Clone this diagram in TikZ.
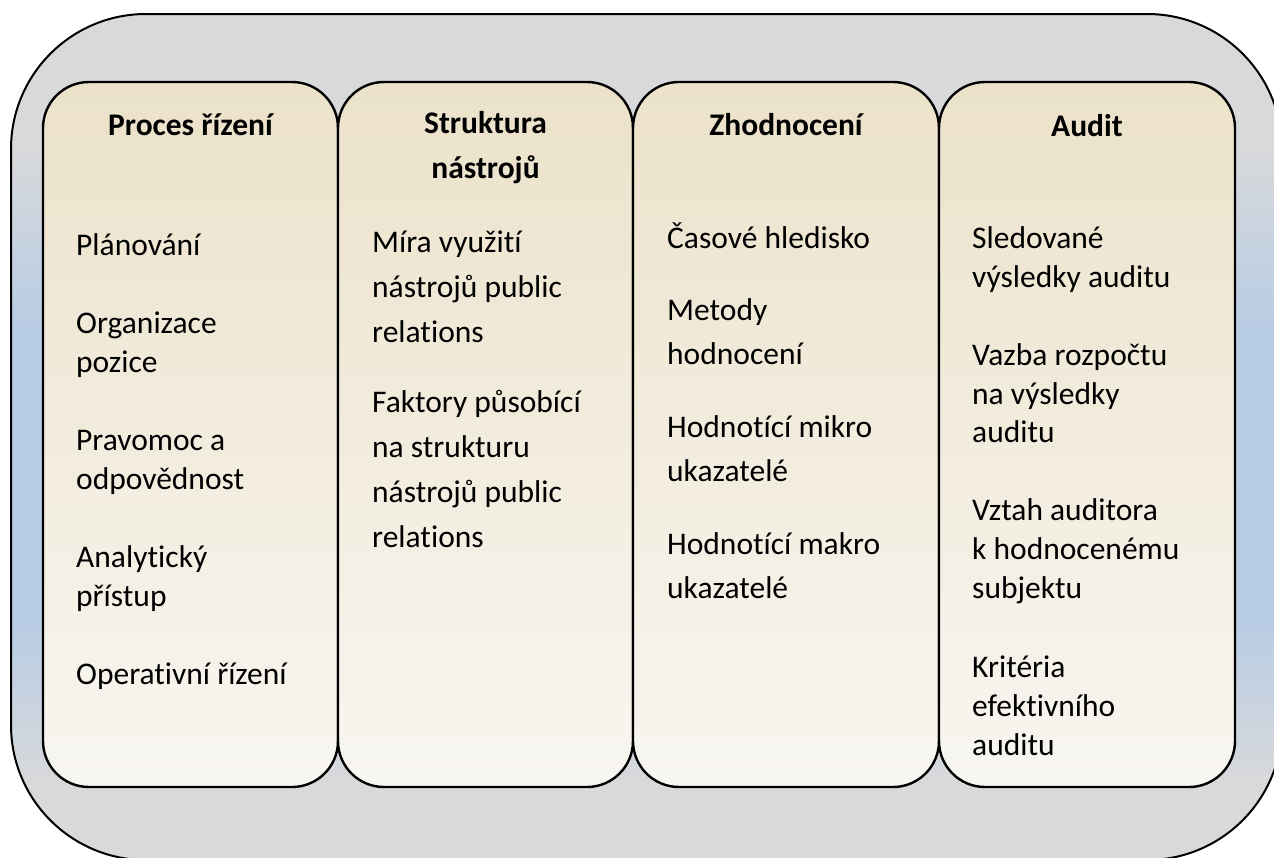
\documentclass[tikz,border=0pt]{standalone}
\usepackage{fontspec}
\setmainfont[Ligatures=NoCommon]{Carlito}
\definecolor{outerGray}{HTML}{D8D9DB}
\definecolor{outerBlue}{HTML}{B8CCE4}
\definecolor{colTop}{HTML}{ECE2CA}
\definecolor{colBottom}{HTML}{F8F6F1}
% grey at top and bottom, blue band through the middle
\pgfdeclareverticalshading{outerfill}{100bp}{color(0bp)=(outerGray);
  color(29.7bp)=(outerGray); color(39bp)=(outerBlue);
  color(56.5bp)=(outerBlue); color(67bp)=(outerGray);
  color(100bp)=(outerGray)}
\begin{document}
\begin{tikzpicture}[x=1pt,y=-1pt,
  frame/.style={draw=black, line width=2pt, rounded corners=135pt,
    shading=outerfill},
  column/.style={draw=black, line width=2.4pt, rounded corners=46pt,
    top color=colTop, bottom color=colBottom},
  head/.style={font=\fontsize{31.5}{39}\selectfont\bfseries, anchor=base, inner sep=0pt},
  item/.style={font=\fontsize{31.5}{39}\selectfont, anchor=base west, inner sep=0pt}]
\useasboundingbox (0,0) rectangle (1274,857);

% outer frame
\path[frame] (11,14) rectangle (1282,860);

% four columns
\path[column] (43,82) rectangle (338,787);
\path[column] (338,82) rectangle (633,787);
\path[column] (633,82) rectangle (939,787);
\path[column] (939,82) rectangle (1235,787);

% headings
\node[head] (h1) at (190.5,135) {Proces řízení};
\node[head] (h2a) at (485.5,133) {Struktura};
\node[head] (h2b) at (485.5,178) {nástrojů};
\node[head] (h3) at (786,135) {Zhodnocení};
\node[head] (h4) at (1087,136) {Audit};

% column 1
\foreach \yy/\txt [count=\n] in {255/Plánování, 333/Organizace, 372/pozice,
    450/Pravomoc a, 489/odpovědnost, 567/Analytický, 606/přístup,
    684/Operativní řízení}
  \node[item] (a\n) at (76,\yy) {\txt};

% column 2
\foreach \yy/\txt [count=\n] in {252/Míra využití, 297/nástrojů public,
    342/relations, 412/Faktory působící, 457/na strukturu,
    502/nástrojů public, 547/relations}
  \node[item] (b\n) at (372,\yy) {\txt};

% column 3
\foreach \yy/\txt [count=\n] in {248/Časové hledisko, 320/Metody,
    364/hodnocení, 437/Hodnotící mikro, 481/ukazatelé,
    554/Hodnotící makro, 598/ukazatelé}
  \node[item] (c\n) at (667,\yy) {\txt};

% column 4
\foreach \yy/\txt [count=\n] in {248/Sledované, 287/výsledky auditu,
    365/Vazba rozpočtu, 404/na výsledky, 442/auditu, 520/Vztah auditora,
    559/k hodnocenému, 598/subjektu, 677/Kritéria, 716/efektivního,
    755/auditu}
  \node[item] (d\n) at (972,\yy) {\txt};
\end{tikzpicture}
\end{document}
